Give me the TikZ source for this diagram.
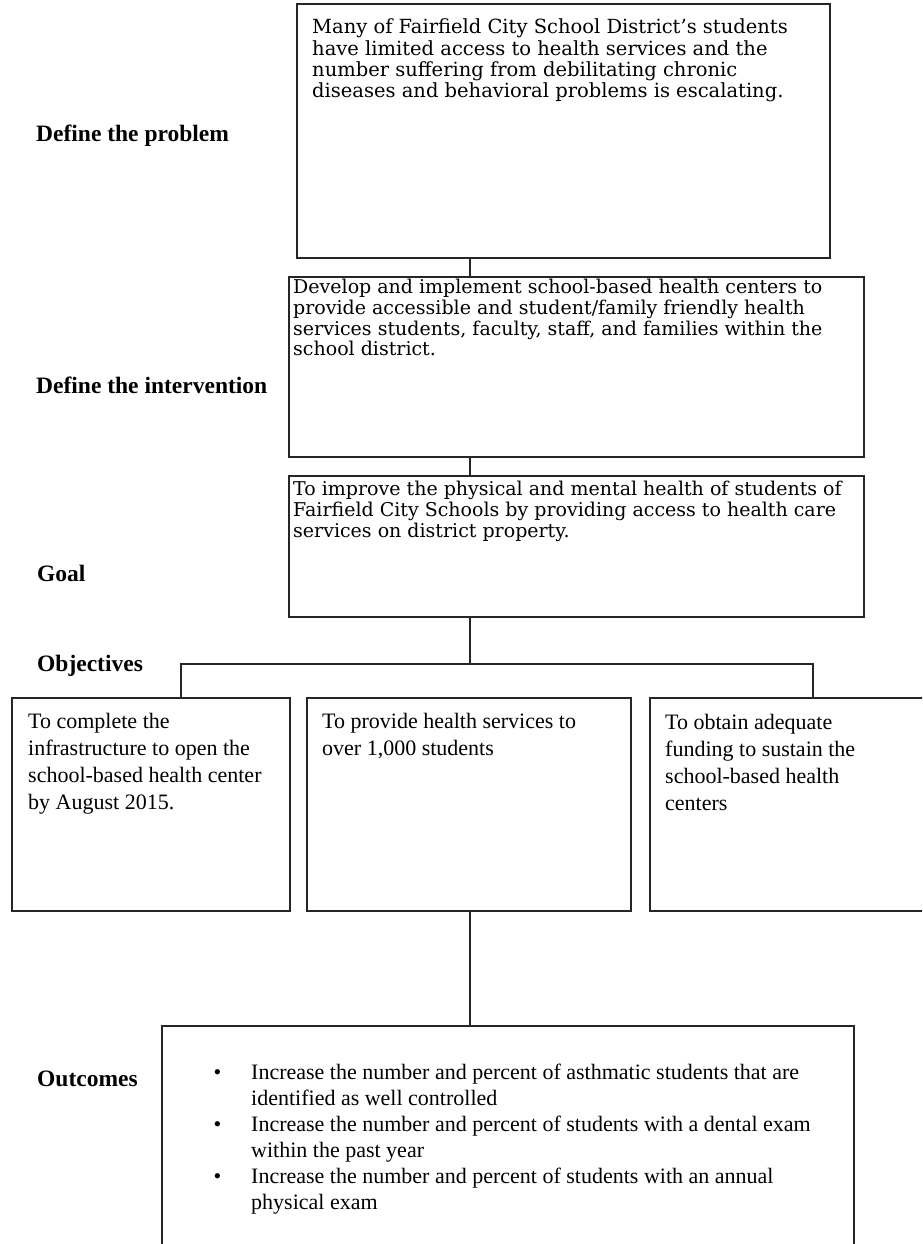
\documentclass[tikz,border=0pt]{standalone}
\usepackage{fontspec}
\setmainfont{Liberation Serif}
\newfontfamily\boxfont{DejaVu Serif}
\begin{document}
\begin{tikzpicture}[x=1pt,y=-1pt,
  frame/.style={draw=black!85, line width=1.3pt, inner sep=0pt, outer sep=0pt, anchor=north west},
  conn/.style={draw=black!85, line width=1.3pt},
  lbl/.style={anchor=base west, inner sep=0pt, font=\fontsize{23.5}{28}\selectfont\bfseries},
  probtext/.style={anchor=base west, inner sep=0pt, font=\boxfont\fontsize{19.5}{21.3}\selectfont},
  uppertext/.style={anchor=base west, inner sep=0pt, font=\boxfont\fontsize{19}{20.8}\selectfont},
  lowertext/.style={anchor=base west, inner sep=0pt, font=\fontsize{22}{27}\selectfont},
  outtext/.style={anchor=base west, inner sep=0pt, font=\fontsize{22}{26}\selectfont}]
\useasboundingbox (0,0) rectangle (922,1244);
\clip (0,0) rectangle (922,1244);

% boxes
\node[frame, minimum width=533pt, minimum height=254pt] (prob) at (297,4) {};
\node[frame, minimum width=575pt, minimum height=180pt] (intv) at (289,277) {};
\node[frame, minimum width=575pt, minimum height=141pt] (goal) at (289,476) {};
\node[frame, minimum width=278pt, minimum height=213pt] (obone) at (12,698) {};
\node[frame, minimum width=324pt, minimum height=213pt] (obtwo) at (307,698) {};
\node[frame, minimum width=300pt, minimum height=213pt] (obthree) at (650,698) {};
\node[frame, minimum width=692pt, minimum height=260pt] (outc) at (162,1026) {};

% connectors
\coordinate (cx) at (470,0);
\coordinate (hl) at (181,664);
\coordinate (hr) at (813,664);
\draw[conn] (prob.south -| cx) -- (intv.north -| cx);
\draw[conn] (intv.south -| cx) -- (goal.north -| cx);
\draw[conn] (goal.south -| cx) -- (cx |- hl);
\draw[conn] (obone.north -| hl) -- (hl) -- (hr) -- (obthree.north -| hr);
\draw[conn] (obtwo.south -| cx) -- (outc.north -| cx);

% labels
\node[lbl] (lprob) at (36,141) {Define the problem};
\node[lbl] (lintv) at (36,393) {Define the intervention};
\node[lbl] (lgoal) at (37,581) {Goal};
\node[lbl] (lobj) at (37,671) {Objectives};
\node[lbl] (lout) at (37,1086) {Outcomes};

% texts
\node[probtext] (tprob) at (312,34) {\begin{minipage}[t]{600pt}Many of Fairfield City School District’s students\\have limited access to health services and the\\number suffering from debilitating chronic\\diseases and behavioral problems is escalating.\end{minipage}};
\node[uppertext] (tintv) at (293,293.5) {\begin{minipage}[t]{600pt}Develop and implement school-based health centers to\\provide accessible and student/family friendly health\\services students, faculty, staff, and families within the\\school district.\end{minipage}};
\node[uppertext] (tgoal) at (293,495.5) {\begin{minipage}[t]{600pt}To improve the physical and mental health of students of\\Fairfield City Schools by providing access to health care\\services on district property.\end{minipage}};

\node[lowertext] (tobone) at (28,728.5) {\begin{minipage}[t]{300pt}To complete the\\infrastructure to open the\\school-based health center\\by August 2015.\end{minipage}};
\node[lowertext] (tobtwo) at (322,728.5) {\begin{minipage}[t]{300pt}To provide health services to\\over 1,000 students\end{minipage}};
\node[lowertext] (tobthree) at (665,729) {\begin{minipage}[t]{300pt}To obtain adequate\\funding to sustain the\\school-based health\\centers\end{minipage}};

\node[outtext] (tout) at (251,1079.5) {\begin{minipage}[t]{600pt}\noindent\llap{•\hspace*{30pt}}Increase the number and percent of asthmatic students that are\\identified as well controlled\\\llap{•\hspace*{30pt}}Increase the number and percent of students with a dental exam\\within the past year\\\llap{•\hspace*{30pt}}Increase the number and percent of students with an annual\\physical exam\end{minipage}};
\end{tikzpicture}
\end{document}
